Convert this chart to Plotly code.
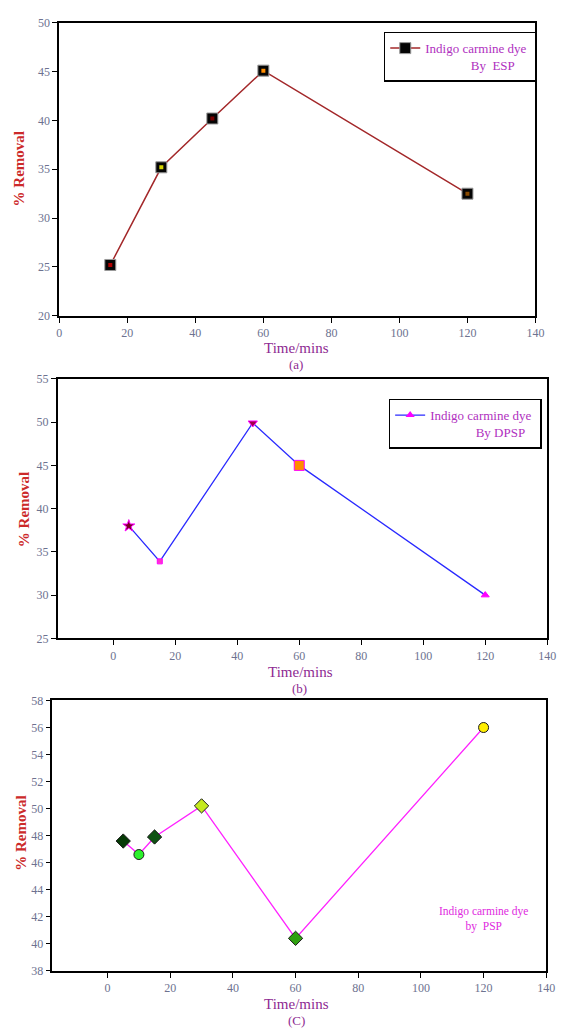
import plotly.graph_objects as go

# ---------------- data ----------------
time_a = [15, 30, 45, 60, 120]
removal_a = [25.2, 35.2, 40.2, 45.1, 32.5]

time_b = [5, 15, 45, 60, 120]
removal_b = [38.0, 33.9, 49.9, 45.0, 30.0]

time_c = [5, 10, 15, 30, 60, 120]
removal_c = [47.6, 46.6, 47.9, 50.2, 40.4, 56.0]

x_ticks = [0, 20, 40, 60, 80, 100, 120, 140]
y_ticks_a = [20, 25, 30, 35, 40, 45, 50]
y_ticks_b = [25, 30, 35, 40, 45, 50, 55]
y_ticks_c = [38, 40, 42, 44, 46, 48, 50, 52, 54, 56, 58]

# ---------------- styles ----------------
W, H = 566, 1034
SERIF = "Liberation Serif, Times New Roman, serif"
TICK_COLOR = "#6d7290"
PURPLE = "#8e2a92"
LEG_TXT = "#b030c0"
RED_T = "#cc2a2a"

inner_a = ["#b00000", "#d4d400", "#7a0000", "#ff8c00", "#8a4a00"]
sym_b = ["star", "square", "triangle-down", "square", "triangle-up"]
col_b = ["#7a0020", "#ff33cc", "#a0004a", "#ff8c00", "#ff00ff"]
size_b = [9, 5, 8, 10, 7]
col_c = ["#063a06", "#2cf02c", "#0e5212", "#c4ea1e", "#30a010", "#ffee00"]
sym_c = ["diamond", "circle", "diamond", "diamond", "diamond", "circle"]
size_c = [11, 10, 11, 11, 11, 10]


def px_x(p):
    return p / W


def px_y(p):
    return 1 - p / H


fig = go.Figure()

# ---- panel (a)
fig.add_trace(go.Scatter(
    x=time_a, y=removal_a, mode="lines+markers",
    name="Indigo carmine dye <br>              By  ESP",
    line=dict(color="#a3282a", width=1.5),
    marker=dict(symbol="square", size=11, color="#050505", opacity=1,
                line=dict(color="#9a9a9a", width=1)),
    xaxis="x", yaxis="y", legend="legend"))
fig.add_trace(go.Scatter(
    x=time_a, y=removal_a, mode="markers", showlegend=False,
    marker=dict(symbol="square", size=4, color=inner_a, opacity=1),
    xaxis="x", yaxis="y"))

# ---- panel (b)
fig.add_trace(go.Scatter(
    x=time_b, y=removal_b, mode="lines+markers", showlegend=False,
    line=dict(color="#2a2aff", width=1.3),
    marker=dict(symbol=sym_b, size=size_b, color=col_b, opacity=1,
                line=dict(color="#ff00ff", width=1)),
    xaxis="x2", yaxis="y2"))
fig.add_trace(go.Scatter(
    x=[None], y=[None], mode="lines+markers",
    name="Indigo carmine dye <br>              By DPSP",
    line=dict(color="#2a2aff", width=1.3),
    marker=dict(symbol="triangle-up", size=8, color="#ff00ff"),
    xaxis="x2", yaxis="y2", legend="legend2"))

# ---- panel (c)
fig.add_trace(go.Scatter(
    x=time_c, y=removal_c, mode="lines+markers", showlegend=False,
    line=dict(color="#ff22ff", width=1.3),
    marker=dict(symbol=sym_c, size=size_c, color=col_c, opacity=1,
                line=dict(color="#1a1a1a", width=1)),
    xaxis="x3", yaxis="y3"))


def xaxis(domain, rng, anchor):
    return dict(domain=domain, range=rng, anchor=anchor,
                tickvals=x_ticks, showgrid=False, zeroline=False,
                showline=True, linecolor="black", linewidth=1.6, mirror=True,
                ticks="outside", ticklen=5, tickwidth=1.3, tickcolor="black",
                tickfont=dict(family=SERIF, size=12, color=TICK_COLOR))


def yaxis(domain, rng, ticks, anchor):
    return dict(domain=domain, range=rng, anchor=anchor,
                tickvals=ticks, showgrid=False, zeroline=False,
                showline=True, linecolor="black", linewidth=1.6, mirror=True,
                ticks="outside", ticklen=5, tickwidth=1.3, tickcolor="black",
                tickfont=dict(family=SERIF, size=12, color=TICK_COLOR))


fig.update_layout(
    width=W, height=H,
    margin=dict(l=0, r=0, t=0, b=0),
    paper_bgcolor="white", plot_bgcolor="white",
    xaxis=xaxis([px_x(57.5), px_x(544)], [0, 140], "y"),
    yaxis=yaxis([px_y(313), px_y(16)], [20, 50], y_ticks_a, "x"),
    xaxis2=xaxis([px_x(56), px_x(556)], [-17.9, 140], "y2"),
    yaxis2=yaxis([px_y(640), px_y(377)], [25, 55], y_ticks_b, "x2"),
    xaxis3=xaxis([px_x(50.5), px_x(555)], [-17.6, 140], "y3"),
    yaxis3=yaxis([px_y(977), px_y(703)], [38, 58], y_ticks_c, "x3"),
    legend=dict(x=px_x(389), y=px_y(25), xanchor="left", yanchor="top",
                bgcolor="white", bordercolor="black", borderwidth=1.5,
                font=dict(family=SERIF, size=13, color=LEG_TXT),
                valign="top", itemwidth=30),
    legend2=dict(x=px_x(394), y=px_y(397), xanchor="left", yanchor="top",
                 bgcolor="white", bordercolor="black", borderwidth=1.5,
                 font=dict(family=SERIF, size=13, color=LEG_TXT),
                 valign="top", itemwidth=30),
    showlegend=True,
)

ann = []


def add_text(x, y, text, size, color, angle=0, bold=False):
    ann.append(dict(x=px_x(x), y=px_y(y), xref="paper", yref="paper",
                    text=f"<b>{text}</b>" if bold else text,
                    showarrow=False, textangle=angle,
                    xanchor="center", yanchor="middle",
                    font=dict(family=SERIF, size=size, color=color)))


# x titles and panel labels
add_text(300, 346, "Time/mins", 15, PURPLE)
add_text(299, 362, "(a)", 13, PURPLE)
add_text(304, 674, "Time/mins", 15, PURPLE)
add_text(303, 691, "(b)", 13, PURPLE)
add_text(300, 1011, "Time/mins", 15, PURPLE)
add_text(300, 1027, "(C)", 13, PURPLE)
# y titles
add_text(16, 164, "% Removal", 15, RED_T, angle=-90, bold=True)
add_text(21.5, 510, "% Removal", 15, RED_T, angle=-90, bold=True)
add_text(18.5, 838, "% Removal", 15, RED_T, angle=-90, bold=True)
# panel c label
add_text(491, 925, "Indigo carmine dye<br>by  PSP", 11.5, "#e02ae0")

fig.update_layout(annotations=ann)

fig.write_html("out.html")
